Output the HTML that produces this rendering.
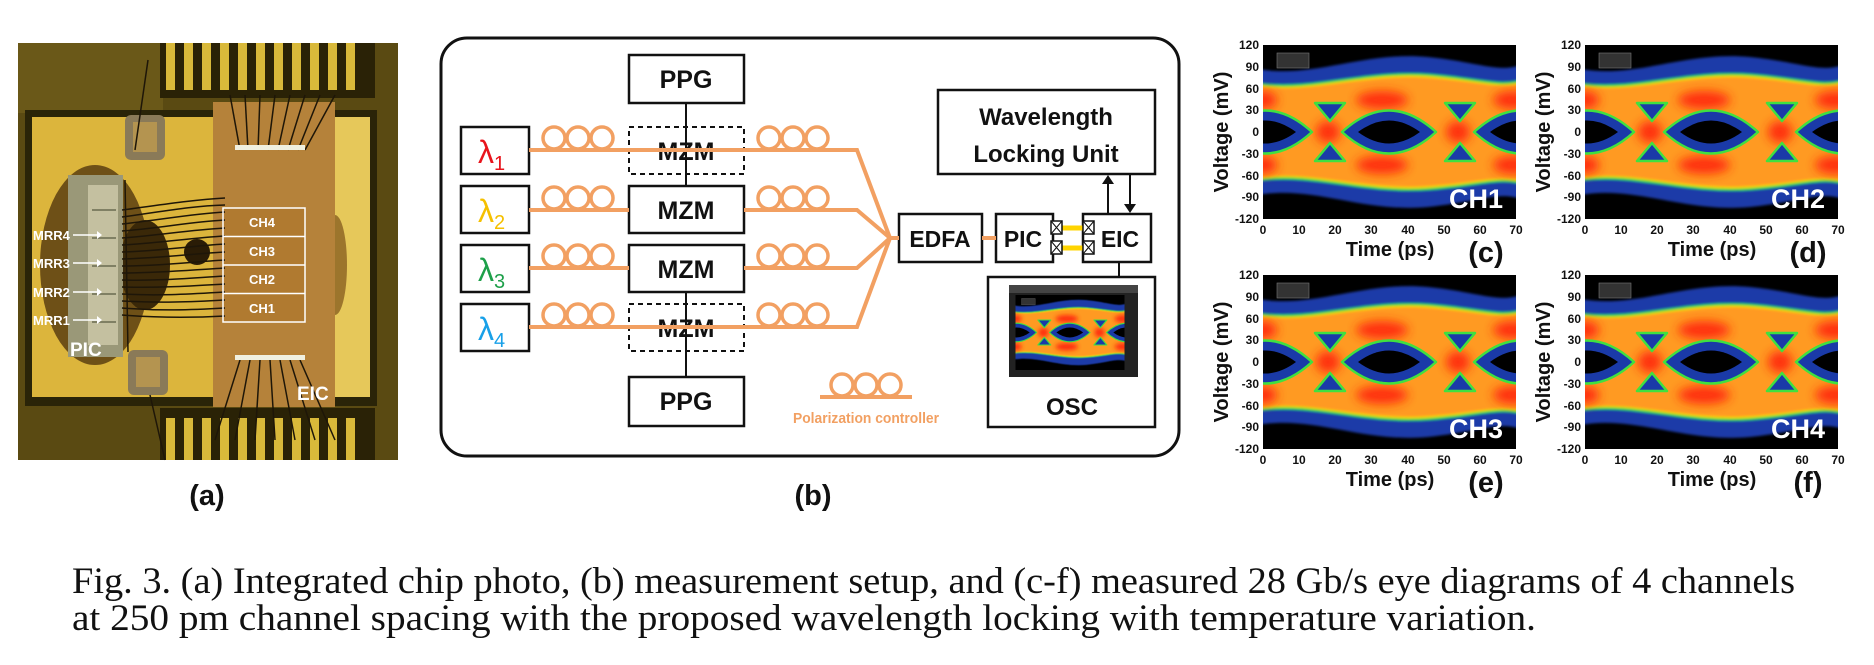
<!DOCTYPE html>
<html><head><meta charset="utf-8"><style>
html,body{margin:0;padding:0;background:#fff;}
svg{display:block;}
.b{font-family:"Liberation Sans",sans-serif;font-weight:bold;}
</style></head><body>
<svg width="1874" height="665" viewBox="0 0 1874 665" xmlns="http://www.w3.org/2000/svg">
<defs>
<filter id="bl" x="-50%" y="-50%" width="200%" height="200%"><feGaussianBlur stdDeviation="5"/></filter>
<filter id="bl2" x="-20%" y="-20%" width="140%" height="140%"><feGaussianBlur stdDeviation="1.2"/></filter>
<clipPath id="ec"><rect x="0" y="0" width="253" height="174"/></clipPath>
<symbol id="eye" viewBox="0 0 253 174" width="253" height="174">
<g clip-path="url(#ec)">
<rect width="253" height="174" fill="#000"/>
<g filter="url(#bl2)">
<path d="M-5,24 C50,34 100,6 165,12 C215,17 235,28 258,20 L258,154 C235,146 215,157 165,162 C100,168 50,140 -5,150 Z" fill="#1a3aa8"/>
<path transform="translate(0,87) scale(1,0.76) translate(0,-87)" d="M-5,24 C50,34 100,6 165,12 C215,17 235,28 258,20 L258,154 C235,146 215,157 165,162 C100,168 50,140 -5,150 Z" fill="#ffd000" stroke="#30e030" stroke-width="3"/>
<path transform="translate(0,87) scale(1,0.72) translate(0,-87)" d="M-5,24 C50,34 100,6 165,12 C215,17 235,28 258,20 L258,154 C235,146 215,157 165,162 C100,168 50,140 -5,150 Z" fill="#ff9a22"/>
</g>
<g filter="url(#bl)" fill="#ff2a10" opacity="0.95">
<ellipse cx="65" cy="87" rx="12" ry="11"/><ellipse cx="195" cy="87" rx="12" ry="11"/>
<ellipse cx="119" cy="55" rx="26" ry="9"/><ellipse cx="119" cy="120" rx="26" ry="9"/>
<ellipse cx="250" cy="55" rx="20" ry="9"/><ellipse cx="250" cy="120" rx="20" ry="9"/>
<ellipse cx="0" cy="55" rx="14" ry="9"/><ellipse cx="0" cy="120" rx="14" ry="9"/>
</g>
<g fill="#1a3aa8" stroke="#40e040" stroke-width="2.5" stroke-linejoin="round">
<path d="M79,87 Q126,44 173,87 Q126,130 79,87 Z"/>
<path d="M-45,87 Q2,44 49,87 Q2,130 -45,87 Z"/>
<path d="M211,87 Q258,44 305,87 Q258,130 211,87 Z"/>
<path d="M52,58 L82,58 L67,76 Z"/><path d="M52,116 L82,116 L67,98 Z"/>
<path d="M182,58 L212,58 L197,76 Z"/><path d="M182,116 L212,116 L197,98 Z"/>
</g>
<g fill="#000">
<path d="M95,87 Q126,64 157,87 Q126,110 95,87 Z"/>
<path d="M-29,87 Q2,64 33,87 Q2,110 -29,87 Z"/>
<path d="M227,87 Q258,64 289,87 Q258,110 227,87 Z"/>
</g>
<rect x="14" y="8" width="32" height="15" fill="#333" stroke="#777" stroke-width="0.6"/>
</g>
</symbol>
</defs>

<!-- ============ (a) PHOTO ============ -->
<g>
<rect x="18" y="43" width="380" height="417" fill="#5a4a12"/>
<rect x="18" y="43" width="145" height="70" fill="#6a5818"/>
<rect x="160" y="43" width="215" height="55" fill="#2a2206"/>
<g fill="#d9b93a">
<rect x="166" y="43" width="9" height="47"/><rect x="184" y="43" width="9" height="47"/><rect x="202" y="43" width="9" height="47"/><rect x="220" y="43" width="9" height="47"/><rect x="238" y="43" width="9" height="47"/><rect x="256" y="43" width="9" height="47"/><rect x="274" y="43" width="9" height="47"/><rect x="292" y="43" width="9" height="47"/><rect x="310" y="43" width="9" height="47"/><rect x="328" y="43" width="9" height="47"/><rect x="346" y="43" width="9" height="47"/>
</g>
<rect x="160" y="408" width="215" height="52" fill="#2a2206"/>
<g fill="#d9b93a">
<rect x="166" y="418" width="9" height="42"/><rect x="184" y="418" width="9" height="42"/><rect x="202" y="418" width="9" height="42"/><rect x="220" y="418" width="9" height="42"/><rect x="238" y="418" width="9" height="42"/><rect x="256" y="418" width="9" height="42"/><rect x="274" y="418" width="9" height="42"/><rect x="292" y="418" width="9" height="42"/><rect x="310" y="418" width="9" height="42"/><rect x="328" y="418" width="9" height="42"/><rect x="346" y="418" width="9" height="42"/>
</g>
<rect x="25" y="110" width="352" height="296" fill="#2a2408"/>
<rect x="32" y="117" width="338" height="280" fill="#dcb53c"/>
<rect x="335" y="117" width="35" height="280" fill="#e6c85a"/>
<ellipse cx="95" cy="265" rx="55" ry="100" fill="#5a3e10" opacity="0.85"/>
<ellipse cx="145" cy="265" rx="25" ry="45" fill="#3a2808"/>
<ellipse cx="335" cy="265" rx="12" ry="50" fill="#8a6020" opacity="0.8"/>
<rect x="125" y="115" width="40" height="45" rx="6" fill="#8a7a58"/><rect x="133" y="122" width="24" height="30" fill="#b49450"/>
<rect x="128" y="350" width="40" height="45" rx="6" fill="#8a7a58"/><rect x="136" y="357" width="24" height="30" fill="#b49450"/>
<rect x="213" y="102" width="122" height="305" fill="#b5823a"/>
<rect x="223" y="208" width="82" height="114" fill="#b07a30"/>
<circle cx="197" cy="252" r="13" fill="#2a1c06"/>
<rect x="68" y="175" width="55" height="182" fill="#9a9878"/>
<rect x="88" y="185" width="30" height="160" fill="#c4c0a0"/>
<g stroke="#6a6a50" stroke-width="1.5"><line x1="92" y1="210" x2="116" y2="210"/><line x1="92" y1="238" x2="116" y2="238"/><line x1="92" y1="266" x2="116" y2="266"/><line x1="92" y1="294" x2="116" y2="294"/><line x1="92" y1="322" x2="116" y2="322"/></g>
<g stroke="#1e1608" stroke-width="1.5" fill="none">
<path d="M122,210 C160,205 190,200 225,198"/><path d="M122,217 C160,212 190,206 225,205"/><path d="M122,224 C160,220 190,214 225,212"/><path d="M122,231 C160,228 190,222 225,220"/><path d="M122,238 C160,235 190,230 225,228"/><path d="M122,245 C160,243 190,238 225,236"/><path d="M122,252 C160,251 190,246 225,244"/><path d="M122,259 C160,258 190,254 225,252"/><path d="M122,266 C160,266 190,262 225,260"/><path d="M122,273 C160,273 190,270 225,268"/><path d="M122,280 C160,281 190,278 225,276"/><path d="M122,287 C160,288 190,286 225,284"/><path d="M122,294 C160,296 190,294 225,292"/><path d="M122,301 C160,303 190,302 225,300"/><path d="M122,308 C160,311 190,310 225,308"/><path d="M122,315 C160,318 190,318 225,316"/>
<line x1="125" y1="180" x2="128" y2="352"/><line x1="148" y1="60" x2="135" y2="150"/><line x1="150" y1="395" x2="165" y2="460"/>
<path d="M230,95 L240,150"/><path d="M245,95 L248,150"/><path d="M260,95 L258,150"/><path d="M275,95 L268,150"/><path d="M290,95 L278,150"/><path d="M305,95 L288,150"/><path d="M320,95 L298,150"/><path d="M335,95 L305,150"/>
<path d="M240,360 L215,440"/><path d="M250,360 L235,440"/><path d="M260,360 L255,440"/><path d="M270,360 L275,440"/><path d="M280,360 L295,440"/><path d="M290,360 L315,440"/><path d="M300,360 L335,440"/>
</g>
<g fill="#f0f0e0"><rect x="235" y="145" width="70" height="5"/><rect x="235" y="355" width="70" height="5"/></g>
<g stroke="#fff" stroke-width="1.5" fill="none"><rect x="223" y="208" width="82" height="114"/><line x1="223" y1="236.5" x2="305" y2="236.5"/><line x1="223" y1="265" x2="305" y2="265"/><line x1="223" y1="293.5" x2="305" y2="293.5"/></g>
<g class="b" fill="#fff" font-size="13" text-anchor="middle">
<text x="262" y="227">CH4</text><text x="262" y="256">CH3</text><text x="262" y="284">CH2</text><text x="262" y="313">CH1</text>
</g>
<g class="b" fill="#fff" font-size="13">
<text x="33" y="240">MRR4</text><text x="33" y="268">MRR3</text><text x="33" y="297">MRR2</text><text x="33" y="325">MRR1</text>
</g>
<g stroke="#fff" stroke-width="1.5"><line x1="73" y1="235" x2="97" y2="235"/><line x1="73" y1="263" x2="97" y2="263"/><line x1="73" y1="292" x2="97" y2="292"/><line x1="73" y1="320" x2="97" y2="320"/></g>
<g fill="#fff"><path d="M97,231 L102,235 L97,239Z"/><path d="M97,259 L102,263 L97,267Z"/><path d="M97,288 L102,292 L97,296Z"/><path d="M97,316 L102,320 L97,324Z"/></g>
<text class="b" x="70" y="356" font-size="19" fill="#fff">PIC</text>
<text class="b" x="297" y="400" font-size="19" fill="#fff">EIC</text>
</g>
<text class="b" x="207" y="505" font-size="29" text-anchor="middle" fill="#111">(a)</text>

<!-- ============ (b) SETUP ============ -->
<rect x="441" y="38" width="738" height="418" rx="26" fill="#fff" stroke="#111" stroke-width="3"/>
<g fill="none" stroke="#111" stroke-width="2.5">
<rect x="629" y="55" width="115" height="48"/>
<rect x="629" y="377" width="115" height="49"/>
<rect x="461" y="127" width="68" height="47"/><rect x="461" y="186" width="68" height="47"/><rect x="461" y="245" width="68" height="47"/><rect x="461" y="304" width="68" height="47"/>
<rect x="629" y="186" width="115" height="47"/><rect x="629" y="245" width="115" height="47"/>
<rect x="938" y="90" width="217" height="84"/>
<rect x="899" y="214" width="83" height="48"/>
<rect x="996" y="214" width="57" height="48"/>
<rect x="1083" y="214" width="68" height="48"/>
<rect x="988" y="277" width="167" height="150"/>
</g>
<g fill="none" stroke="#111" stroke-width="2" stroke-dasharray="5,4">
<rect x="629" y="127" width="115" height="47"/><rect x="629" y="304" width="115" height="47"/>
</g>
<g class="b" font-size="25" text-anchor="middle" fill="#111">
<text x="686" y="88">PPG</text><text x="686" y="410">PPG</text>
<text x="686" y="160">MZM</text><text x="686" y="219">MZM</text><text x="686" y="278">MZM</text><text x="686" y="337">MZM</text>
<text x="1046" y="125" font-size="24">Wavelength</text><text x="1046" y="162" font-size="24">Locking Unit</text>
<text x="940" y="247" font-size="23">EDFA</text><text x="1023" y="247" font-size="23">PIC</text><text x="1120" y="247" font-size="23">EIC</text>
<text x="1072" y="415" font-size="24">OSC</text>
</g>
<g stroke="#111" stroke-width="2"><line x1="686" y1="103" x2="686" y2="186"/><line x1="686" y1="292" x2="686" y2="377"/><line x1="1119" y1="262" x2="1119" y2="277"/>
<line x1="1108" y1="214" x2="1108" y2="182"/><line x1="1130" y1="174" x2="1130" y2="206"/></g>
<path d="M1102,184 L1108,175 L1114,184 Z M1124,204 L1130,213 L1136,204 Z" fill="#111"/>
<g fill="none" stroke="#f2a062" stroke-width="4">
<path d="M529,150 L857,150 L890,238"/>
<path d="M529,210 L629,210 M744,210 L857,210 L890,238"/>
<path d="M529,268 L629,268 M744,268 L857,268 L890,238"/>
<path d="M529,327 L857,327 L890,238"/>
<line x1="888" y1="238" x2="899" y2="238"/><line x1="982" y1="238" x2="996" y2="238"/>
</g>
<g fill="none" stroke="#f2a062" stroke-width="3.5">
<circle cx="554" cy="138" r="11"/><circle cx="578" cy="138" r="11"/><circle cx="602" cy="138" r="11"/>
<circle cx="769" cy="138" r="11"/><circle cx="793" cy="138" r="11"/><circle cx="817" cy="138" r="11"/>
<circle cx="554" cy="198" r="11"/><circle cx="578" cy="198" r="11"/><circle cx="602" cy="198" r="11"/>
<circle cx="769" cy="198" r="11"/><circle cx="793" cy="198" r="11"/><circle cx="817" cy="198" r="11"/>
<circle cx="554" cy="256" r="11"/><circle cx="578" cy="256" r="11"/><circle cx="602" cy="256" r="11"/>
<circle cx="769" cy="256" r="11"/><circle cx="793" cy="256" r="11"/><circle cx="817" cy="256" r="11"/>
<circle cx="554" cy="315" r="11"/><circle cx="578" cy="315" r="11"/><circle cx="602" cy="315" r="11"/>
<circle cx="769" cy="315" r="11"/><circle cx="793" cy="315" r="11"/><circle cx="817" cy="315" r="11"/>
<circle cx="842" cy="385" r="11"/><circle cx="866" cy="385" r="11"/><circle cx="890" cy="385" r="11"/>
</g>
<line x1="820" y1="397" x2="912" y2="397" stroke="#f2a062" stroke-width="4"/>
<text class="b" x="866" y="423" font-size="15" text-anchor="middle" fill="#f2a062" textLength="146" lengthAdjust="spacingAndGlyphs">Polarization controller</text>
<g font-family="Liberation Sans,sans-serif" font-size="32">
<text x="478" y="163" fill="#e8141c">λ<tspan font-size="20" dy="7">1</tspan></text>
<text x="478" y="222" fill="#f5c000">λ<tspan font-size="20" dy="7">2</tspan></text>
<text x="478" y="281" fill="#1ea04a">λ<tspan font-size="20" dy="7">3</tspan></text>
<text x="478" y="340" fill="#18a0e8">λ<tspan font-size="20" dy="7">4</tspan></text>
</g>
<g stroke="#ffd400" stroke-width="5"><line x1="1062" y1="228" x2="1083" y2="228"/><line x1="1062" y1="248" x2="1083" y2="248"/></g>
<g fill="#fff" stroke="#111" stroke-width="1.5">
<rect x="1051" y="221" width="11" height="13"/><rect x="1051" y="241" width="11" height="13"/>
<rect x="1083" y="221" width="11" height="13"/><rect x="1083" y="241" width="11" height="13"/>
</g>
<g stroke="#111" stroke-width="1"><path d="M1051,221 L1062,234 M1062,221 L1051,234 M1051,241 L1062,254 M1062,241 L1051,254 M1083,221 L1094,234 M1094,221 L1083,234 M1083,241 L1094,254 M1094,241 L1083,254"/></g>
<rect x="1009" y="285" width="129" height="92" fill="#222"/>
<rect x="1009" y="285" width="129" height="8" fill="#444"/>
<use href="#eye" x="1013" y="295" width="114" height="75"/>
<text class="b" x="813" y="505" font-size="29" text-anchor="middle" fill="#111">(b)</text>

<!-- ============ EYE PLOTS ============ -->
<use href="#eye" x="1263" y="45" width="253" height="174"/>
<use href="#eye" x="1585" y="45" width="253" height="174"/>
<use href="#eye" x="1263" y="275" width="253" height="174"/>
<use href="#eye" x="1585" y="275" width="253" height="174"/>
<g class="b" fill="#fff" font-size="27" text-anchor="end">
<text x="1503" y="208">CH1</text><text x="1825" y="208">CH2</text><text x="1503" y="438">CH3</text><text x="1825" y="438">CH4</text>
</g>
<g class="b" font-size="12" fill="#111">
<g text-anchor="end">
<g>
<text x="1259" y="49">120</text><text x="1259" y="71">90</text><text x="1259" y="93">60</text><text x="1259" y="114">30</text><text x="1259" y="136">0</text><text x="1259" y="158">-30</text><text x="1259" y="180">-60</text><text x="1259" y="201">-90</text><text x="1259" y="223">-120</text>
</g>
<g transform="translate(322,0)"><text x="1259" y="49">120</text><text x="1259" y="71">90</text><text x="1259" y="93">60</text><text x="1259" y="114">30</text><text x="1259" y="136">0</text><text x="1259" y="158">-30</text><text x="1259" y="180">-60</text><text x="1259" y="201">-90</text><text x="1259" y="223">-120</text></g>
<g transform="translate(0,230)"><text x="1259" y="49">120</text><text x="1259" y="71">90</text><text x="1259" y="93">60</text><text x="1259" y="114">30</text><text x="1259" y="136">0</text><text x="1259" y="158">-30</text><text x="1259" y="180">-60</text><text x="1259" y="201">-90</text><text x="1259" y="223">-120</text></g>
<g transform="translate(322,230)"><text x="1259" y="49">120</text><text x="1259" y="71">90</text><text x="1259" y="93">60</text><text x="1259" y="114">30</text><text x="1259" y="136">0</text><text x="1259" y="158">-30</text><text x="1259" y="180">-60</text><text x="1259" y="201">-90</text><text x="1259" y="223">-120</text></g>
</g>
<g text-anchor="middle">
<g><text x="1263" y="234">0</text><text x="1299" y="234">10</text><text x="1335" y="234">20</text><text x="1371" y="234">30</text><text x="1408" y="234">40</text><text x="1444" y="234">50</text><text x="1480" y="234">60</text><text x="1516" y="234">70</text></g>
<g transform="translate(322,0)"><text x="1263" y="234">0</text><text x="1299" y="234">10</text><text x="1335" y="234">20</text><text x="1371" y="234">30</text><text x="1408" y="234">40</text><text x="1444" y="234">50</text><text x="1480" y="234">60</text><text x="1516" y="234">70</text></g>
<g transform="translate(0,230)"><text x="1263" y="234">0</text><text x="1299" y="234">10</text><text x="1335" y="234">20</text><text x="1371" y="234">30</text><text x="1408" y="234">40</text><text x="1444" y="234">50</text><text x="1480" y="234">60</text><text x="1516" y="234">70</text></g>
<g transform="translate(322,230)"><text x="1263" y="234">0</text><text x="1299" y="234">10</text><text x="1335" y="234">20</text><text x="1371" y="234">30</text><text x="1408" y="234">40</text><text x="1444" y="234">50</text><text x="1480" y="234">60</text><text x="1516" y="234">70</text></g>
</g>
</g>
<g class="b" font-size="20" fill="#111" text-anchor="middle">
<text transform="translate(1228,132) rotate(-90)">Voltage (mV)</text>
<text transform="translate(1550,132) rotate(-90)">Voltage (mV)</text>
<text transform="translate(1228,362) rotate(-90)">Voltage (mV)</text>
<text transform="translate(1550,362) rotate(-90)">Voltage (mV)</text>
<text x="1390" y="256">Time (ps)</text><text x="1712" y="256">Time (ps)</text>
<text x="1390" y="486">Time (ps)</text><text x="1712" y="486">Time (ps)</text>
</g>
<g class="b" font-size="29" fill="#111" text-anchor="middle">
<text x="1486" y="262">(c)</text><text x="1808" y="262">(d)</text>
<text x="1486" y="492">(e)</text><text x="1808" y="492">(f)</text>
</g>

<!-- ============ CAPTION ============ -->
<g font-family="Liberation Serif,serif" font-size="37" fill="#111">
<text x="72" y="593" textLength="1723" lengthAdjust="spacingAndGlyphs">Fig. 3. (a) Integrated chip photo, (b) measurement setup, and (c-f) measured 28 Gb/s eye diagrams of 4 channels</text>
<text x="72" y="630" textLength="1464" lengthAdjust="spacingAndGlyphs">at 250 pm channel spacing with the proposed wavelength locking with temperature variation.</text>
</g>
</svg>
</body></html>
